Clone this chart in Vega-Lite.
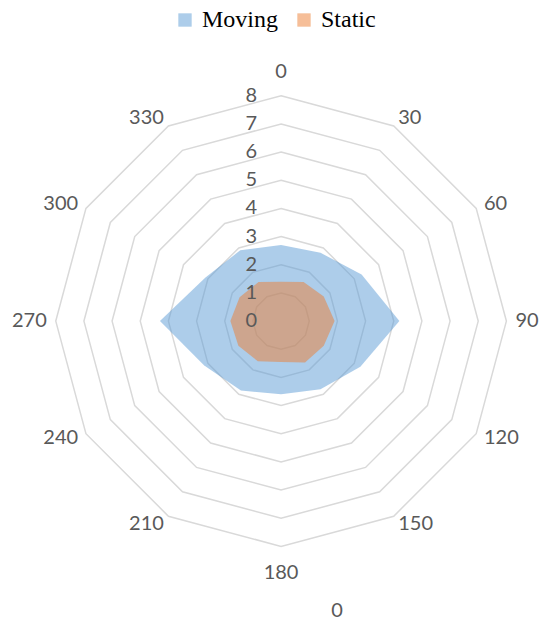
{
  "$schema": "https://vega.github.io/schema/vega-lite/v6.json",
  "width": 543,
  "height": 623,
  "autosize": {"type": "fit", "contains": "padding"},
  "padding": 0,
  "background": "white",
  "config": {"view": {"stroke": null}},
  "datasets": {
    "series": [
      {"series": "Moving", "angle": 0, "value": 2.7},
      {"series": "Moving", "angle": 30, "value": 2.8},
      {"series": "Moving", "angle": 60, "value": 3.3},
      {"series": "Moving", "angle": 90, "value": 4.2},
      {"series": "Moving", "angle": 120, "value": 3.25},
      {"series": "Moving", "angle": 150, "value": 2.8},
      {"series": "Moving", "angle": 180, "value": 2.6},
      {"series": "Moving", "angle": 210, "value": 2.85},
      {"series": "Moving", "angle": 240, "value": 3.15},
      {"series": "Moving", "angle": 270, "value": 4.3},
      {"series": "Moving", "angle": 300, "value": 3.1},
      {"series": "Moving", "angle": 330, "value": 2.9},
      {"series": "Static", "angle": 0, "value": 1.4},
      {"series": "Static", "angle": 30, "value": 1.6},
      {"series": "Static", "angle": 60, "value": 1.75},
      {"series": "Static", "angle": 90, "value": 1.9},
      {"series": "Static", "angle": 120, "value": 1.75},
      {"series": "Static", "angle": 150, "value": 1.7},
      {"series": "Static", "angle": 180, "value": 1.45},
      {"series": "Static", "angle": 210, "value": 1.65},
      {"series": "Static", "angle": 240, "value": 1.75},
      {"series": "Static", "angle": 270, "value": 1.8},
      {"series": "Static", "angle": 300, "value": 1.7},
      {"series": "Static", "angle": 330, "value": 1.6}
    ],
    "rings": [
      {"level": 1, "a": [0, 30, 60, 90, 120, 150, 180, 210, 240, 270, 300, 330]},
      {"level": 2, "a": [0, 30, 60, 90, 120, 150, 180, 210, 240, 270, 300, 330]},
      {"level": 3, "a": [0, 30, 60, 90, 120, 150, 180, 210, 240, 270, 300, 330]},
      {"level": 4, "a": [0, 30, 60, 90, 120, 150, 180, 210, 240, 270, 300, 330]},
      {"level": 5, "a": [0, 30, 60, 90, 120, 150, 180, 210, 240, 270, 300, 330]},
      {"level": 6, "a": [0, 30, 60, 90, 120, 150, 180, 210, 240, 270, 300, 330]},
      {"level": 7, "a": [0, 30, 60, 90, 120, 150, 180, 210, 240, 270, 300, 330]},
      {"level": 8, "a": [0, 30, 60, 90, 120, 150, 180, 210, 240, 270, 300, 330]}
    ],
    "ticks": [
      {"level": 0}, {"level": 1}, {"level": 2}, {"level": 3}, {"level": 4},
      {"level": 5}, {"level": 6}, {"level": 7}, {"level": 8}
    ],
    "cats": [
      {"a": 0, "label": "0"}, {"a": 30, "label": "30"}, {"a": 60, "label": "60"},
      {"a": 90, "label": "90"}, {"a": 120, "label": "120"}, {"a": 150, "label": "150"},
      {"a": 180, "label": "180"}, {"a": 210, "label": "210"}, {"a": 240, "label": "240"},
      {"a": 270, "label": "270"}, {"a": 300, "label": "300"}, {"a": 330, "label": "330"}
    ],
    "extra": [{"px": 1.99, "py": -10.28, "label": "0"}]
  },
  "layer": [
    {
      "data": {"name": "rings"},
      "transform": [
        {"flatten": ["a"]},
        {"calculate": "datum.level * sin(datum.a * PI / 180)", "as": "px"},
        {"calculate": "datum.level * cos(datum.a * PI / 180)", "as": "py"}
      ],
      "mark": {"type": "line", "interpolate": "linear-closed", "stroke": "#d9d9d9", "strokeWidth": 1.5},
      "encoding": {
        "x": {"field": "px", "type": "quantitative", "scale": {"domain": [-9.98, 9.3], "nice": false, "zero": false}, "axis": null},
        "y": {"field": "py", "type": "quantitative", "scale": {"domain": [-10.72, 11.4], "nice": false, "zero": false}, "axis": null},
        "detail": {"field": "level", "type": "nominal"},
        "order": {"field": "a", "type": "quantitative"}
      }
    },
    {
      "data": {"name": "series"},
      "transform": [
        {"calculate": "datum.value * sin(datum.angle * PI / 180)", "as": "px"},
        {"calculate": "datum.value * cos(datum.angle * PI / 180)", "as": "py"}
      ],
      "mark": {"type": "line", "interpolate": "linear-closed", "filled": true, "fillOpacity": 0.5, "strokeWidth": 0},
      "encoding": {
        "x": {"field": "px", "type": "quantitative", "axis": null},
        "y": {"field": "py", "type": "quantitative", "axis": null},
        "color": {
          "field": "series", "type": "nominal",
          "scale": {"domain": ["Moving", "Static"], "range": ["#5B9BD5", "#ED7D31"]},
          "legend": {
            "title": null, "orient": "none", "direction": "horizontal",
            "legendX": 173, "legendY": 8, "padding": 0,
            "symbolType": "square", "symbolSize": 178, "symbolOpacity": 0.5, "symbolStrokeWidth": 0,
            "labelFont": "Liberation Serif", "labelFontSize": 24, "labelColor": "#000000",
            "labelOffset": 5, "columnPadding": 13
          }
        },
        "order": {"field": "angle", "type": "quantitative"}
      }
    },
    {
      "data": {"name": "ticks"},
      "transform": [
        {"calculate": "-0.85", "as": "px"}
      ],
      "mark": {"type": "text", "align": "right", "baseline": "middle", "font": "Lato", "fontSize": 20, "color": "#595959"},
      "encoding": {
        "x": {"field": "px", "type": "quantitative", "axis": null},
        "y": {"field": "level", "type": "quantitative", "axis": null},
        "text": {"field": "level", "type": "nominal"}
      }
    },
    {
      "data": {"name": "cats"},
      "transform": [
        {"filter": "datum.a > 0 && datum.a < 180"},
        {"calculate": "8.32 * sin(datum.a * PI / 180)", "as": "px"},
        {"calculate": "8.32 * cos(datum.a * PI / 180)", "as": "py"}
      ],
      "mark": {"type": "text", "align": "left", "baseline": "middle", "font": "Lato", "fontSize": 20, "color": "#595959"},
      "encoding": {
        "x": {"field": "px", "type": "quantitative", "axis": null},
        "y": {"field": "py", "type": "quantitative", "axis": null},
        "text": {"field": "label", "type": "nominal"}
      }
    },
    {
      "data": {"name": "cats"},
      "transform": [
        {"filter": "datum.a > 180"},
        {"calculate": "8.32 * sin(datum.a * PI / 180)", "as": "px"},
        {"calculate": "8.32 * cos(datum.a * PI / 180)", "as": "py"}
      ],
      "mark": {"type": "text", "align": "right", "baseline": "middle", "font": "Lato", "fontSize": 20, "color": "#595959"},
      "encoding": {
        "x": {"field": "px", "type": "quantitative", "axis": null},
        "y": {"field": "py", "type": "quantitative", "axis": null},
        "text": {"field": "label", "type": "nominal"}
      }
    },
    {
      "data": {"name": "cats"},
      "transform": [
        {"filter": "datum.a == 0 || datum.a == 180"},
        {"calculate": "0", "as": "px"},
        {"calculate": "datum.a == 0 ? 8.83 : -8.95", "as": "py"}
      ],
      "mark": {"type": "text", "align": "center", "baseline": "middle", "font": "Lato", "fontSize": 20, "color": "#595959"},
      "encoding": {
        "x": {"field": "px", "type": "quantitative", "axis": null},
        "y": {"field": "py", "type": "quantitative", "axis": null},
        "text": {"field": "label", "type": "nominal"}
      }
    },
    {
      "data": {"name": "extra"},
      "mark": {"type": "text", "align": "center", "baseline": "middle", "font": "Lato", "fontSize": 20, "color": "#595959"},
      "encoding": {
        "x": {"field": "px", "type": "quantitative", "axis": null},
        "y": {"field": "py", "type": "quantitative", "axis": null},
        "text": {"field": "label", "type": "nominal"}
      }
    }
  ]
}
